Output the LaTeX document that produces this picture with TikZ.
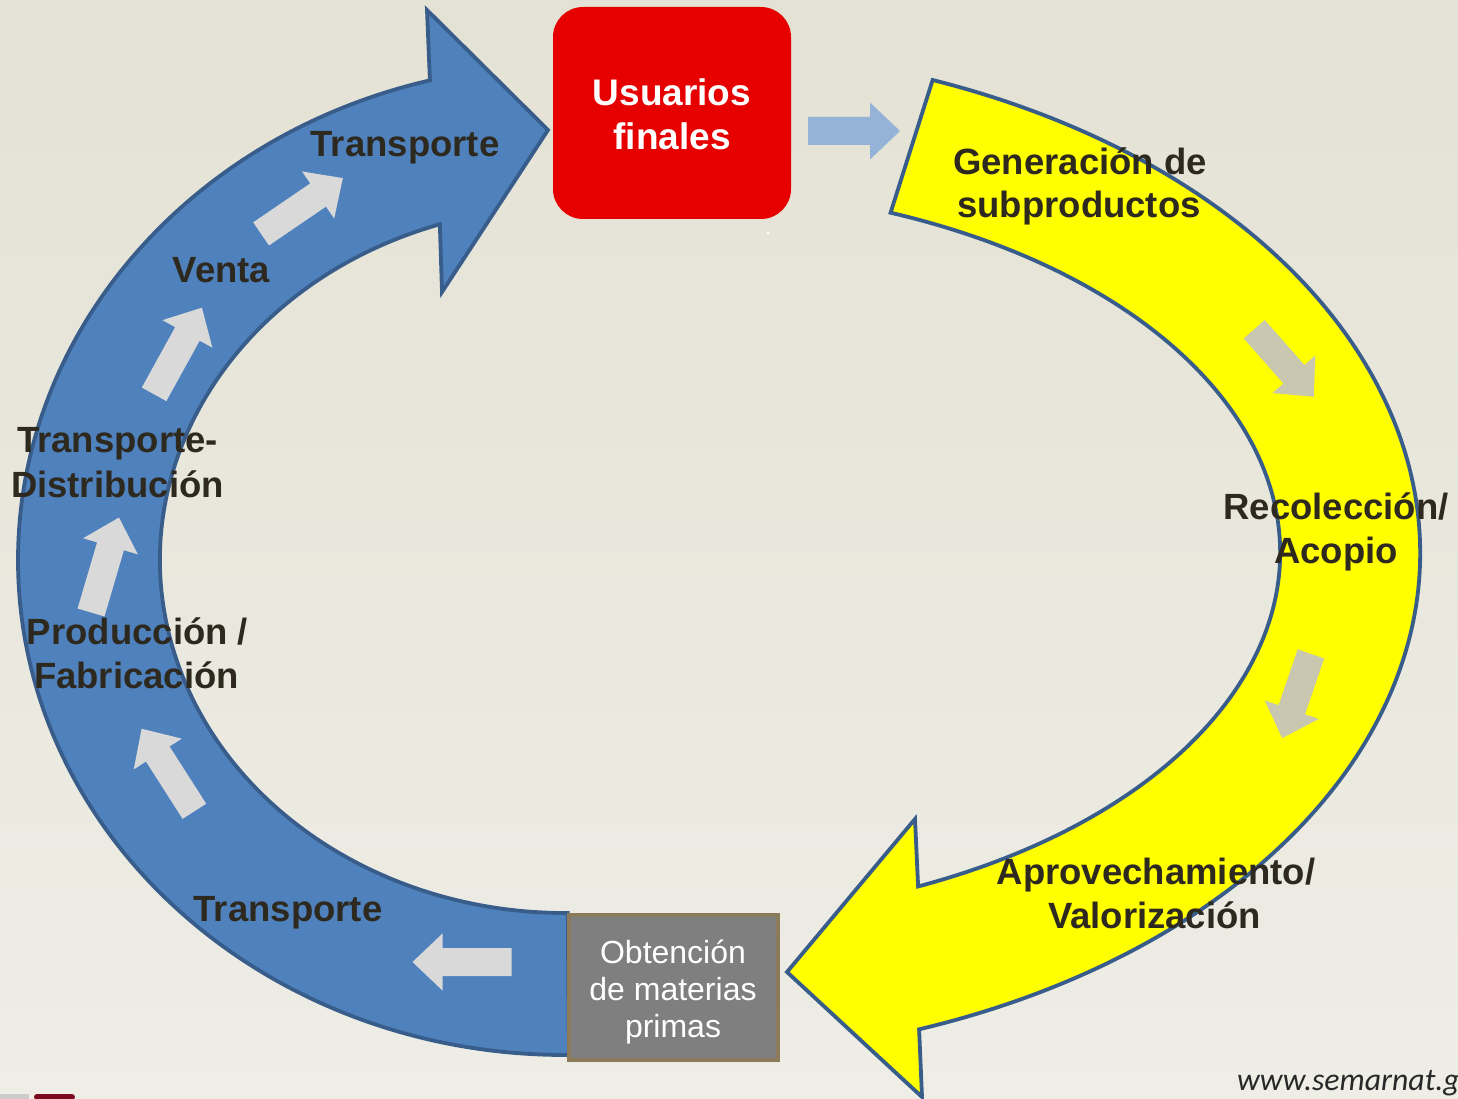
\documentclass[tikz,border=0pt]{standalone}
\usepackage{fontspec}
\setmainfont{Liberation Sans}
\newfontfamily\urlfont{Carlito}
\usetikzlibrary{calc}
\definecolor{bgtop}{RGB}{228,226,212}
\definecolor{bgbot}{RGB}{238,237,230}
\definecolor{bandblue}{RGB}{79,129,189}
\definecolor{edgeblue}{RGB}{56,93,138}
\definecolor{bandyellow}{RGB}{255,255,0}
\definecolor{boxred}{RGB}{230,0,0}
\definecolor{boxgray}{RGB}{127,127,127}
\definecolor{boxedge}{RGB}{140,123,90}
\definecolor{lightarrow}{RGB}{217,217,217}
\definecolor{khakiarrow}{RGB}{202,199,176}
\definecolor{skyarrow}{RGB}{149,179,215}
\definecolor{labeltext}{RGB}{46,41,31}
\definecolor{logored}{RGB}{123,10,30}
\definecolor{urlgray}{RGB}{40,40,40}
\newcommand\blockarrow[4]{%
  \fill[#1, shift={(#2)}, rotate=#3]
    ({-#4/2},-14) -- ({#4/2-30},-14) -- ({#4/2-30},-28.5) -- ({#4/2},0)
    -- ({#4/2-30},28.5) -- ({#4/2-30},14) -- ({-#4/2},14) -- cycle;}
\tikzset{
  band/.style={draw=edgeblue, line width=3.8pt, line join=miter},
  lbl/.style={font={\bfseries\fontsize{36.5}{44}\selectfont}, text=labeltext, inner sep=0pt, anchor=base},
  redtxt/.style={font={\bfseries\fontsize{37}{44}\selectfont}, text=white, inner sep=0pt, anchor=base},
  graytxt/.style={font={\fontsize{32}{38}\selectfont}, text=white, inner sep=0pt, anchor=base},
}
\begin{document}
\begin{tikzpicture}[x=1pt, y=-1pt]
\useasboundingbox (0,0) rectangle (1458,1099);
\clip (0,0) rectangle (1458,1099);
\shade[top color=bgtop, bottom color=bgbot] (0,0) rectangle (1458,1099);

% blue circular arrow
\draw[band, fill=bandblue]
  ($(565,560)+(89.6:547 and 495)$) arc[start angle=89.6, end angle=255.7, x radius=547, y radius=495]
  -- (427,10) -- (548,130) -- (442,292)
  -- ($(565,560)+(252:405 and 353)$) arc[start angle=252, end angle=89.6, x radius=405, y radius=353]
  -- cycle;

% yellow circular arrow
\draw[band, fill=bandyellow]
  ($(670,553)+(-69.5:750 and 505)$) arc[start angle=-69.5, end angle=70.6, x radius=750, y radius=505]
  -- (922,1097) -- (787,972) -- (915,819)
  -- ($(670,553)+(66:610 and 365)$) arc[start angle=66, end angle=-68.8, x radius=610, y radius=365]
  -- cycle;

% boxes
\node[fill=boxred, rounded corners=30pt, minimum width=238pt, minimum height=212pt, inner sep=0pt] (usuarios) at (672,113) {};
\node[redtxt] (usuarios1) at (672,106) {Usuarios};
\node[redtxt] (usuarios2) at (672,150) {finales};

\node[draw=boxedge, line width=4pt, fill=boxgray, minimum width=209pt, minimum height=145pt, inner sep=0pt] (obtencion) at (673.5,987.5) {};
\node[graytxt] (obtencion1) at (673,963) {Obtención};
\node[graytxt] (obtencion2) at (673,1000) {de materias};
\node[graytxt] (obtencion3) at (673,1037) {primas};

\fill[white] (768,233) circle (1.5);

% small direction arrows
\blockarrow{skyarrow}{854,131}{0}{92}
\blockarrow{lightarrow}{462,962}{180}{99}
\blockarrow{lightarrow}{168,770}{122.6}{98}
\blockarrow{lightarrow}{105,565}{73.6}{99}
\blockarrow{lightarrow}{178,351}{61.1}{99}
\blockarrow{lightarrow}{302,206}{34.3}{99}
\blockarrow{khakiarrow}{1284,363}{-48.6}{90}
\blockarrow{khakiarrow}{1296.5,696}{-108.9}{89}

% labels
\node[lbl] (t1) at (405,157) {Transporte};
\node[lbl] (venta) at (221.5,282) {Venta};
\node[lbl] (td1) at (117.5,452) {Transporte-};
\node[lbl] (td2) at (117.5,497) {Distribución};
\node[lbl] (pf1) at (137.5,644) {Producción /};
\node[lbl] (pf2) at (136.5,688) {Fabricación};
\node[lbl] (t2) at (288,921) {Transporte};
\node[lbl] (gs1) at (1080,175) {Generación de};
\node[lbl] (gs2) at (1079,218) {subproductos};
\node[lbl] (ra1) at (1336,519) {Recolección/};
\node[lbl] (ra2) at (1336,563) {Acopio};
\node[lbl] (av1) at (1156,884) {Aprovechamiento/};
\node[lbl] (av2) at (1154.5,928) {Valorización};

% footer
\node[font={\urlfont\itshape\fontsize{31.8}{36}\selectfont}, text=urlgray, inner sep=0pt, anchor=base west] (url) at (1237,1090) {www.semarnat.g};
\fill[gray!40] (0,1094) rectangle (29,1100);
\fill[logored, rounded corners=3pt] (34,1100) -- (34,1094) -- (75,1094) -- (75,1100) -- cycle;
\end{tikzpicture}
\end{document}
